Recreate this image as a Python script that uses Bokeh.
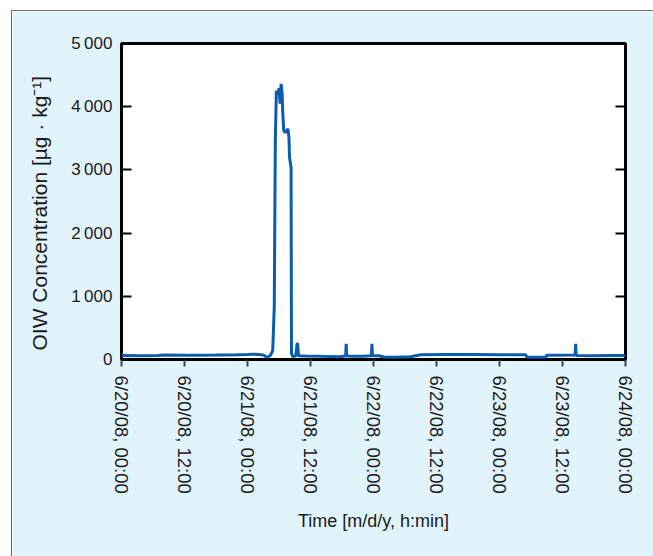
from bokeh.plotting import figure
from bokeh.models import LinearAxis, FixedTicker, ColumnDataSource
from bokeh.embed import file_html
from bokeh.resources import INLINE

# Time in hours since 6/20/08 00:00
hours = [0, 4, 7, 8, 12, 15, 18, 20, 22, 24, 25, 26, 27, 27.8, 28.4, 28.8, 29.1, 29.3,
         29.5, 29.8, 30.0, 30.2, 30.4, 30.6, 30.7, 30.9, 31.2, 31.7, 31.9, 32.0, 32.3,
         32.38, 32.6, 33.2, 33.45, 33.55, 33.7, 35, 38, 41.5, 42.7, 42.8, 42.9, 44, 46,
         47.6, 47.7, 47.8, 49, 50, 52, 55, 57, 62, 67, 72, 77, 77.2, 80.8, 81, 86.4,
         86.5, 86.6, 86.8, 90, 93, 96]
oiw = [62, 60, 62, 70, 68, 68, 70, 72, 75, 80, 85, 80, 72, 32, 70, 140, 830, 3460,
       4250, 4200, 4290, 4050, 4360, 4200, 3940, 3620, 3590, 3650, 3510, 3200, 3040,
       95, 47, 60, 250, 250, 60, 55, 50, 45, 55, 250, 55, 50, 52,
       60, 250, 60, 58, 40, 35, 45, 75, 78, 80, 76, 75, 36, 36, 68, 70,
       250, 70, 62, 60, 65, 62]

x_ticks = [0, 12, 24, 36, 48, 60, 72, 84, 96]
x_tick_labels = ["6/20/08, 00:00", "6/20/08, 12:00", "6/21/08, 00:00", "6/21/08, 12:00",
                 "6/22/08, 00:00", "6/22/08, 12:00", "6/23/08, 00:00", "6/23/08, 12:00",
                 "6/24/08, 00:00"]
y_ticks = [0, 1000, 2000, 3000, 4000, 5000]
y_tick_labels = ["0", "1\u2009000", "2\u2009000", "3\u2009000", "4\u2009000", "5\u2009000"]

FONT = "Liberation Sans"
BG = "#e1f3fb"

p = figure(frame_width=504, frame_height=316, x_range=(0, 96), y_range=(0, 5000),
           output_backend="svg", toolbar_location=None,
           min_border_left=109, min_border_right=29, min_border_top=32, min_border_bottom=198)
p.border_fill_color = BG
p.background_fill_color = "white"
p.outline_line_color = "black"
p.outline_line_width = 3
p.xgrid.visible = False
p.ygrid.visible = False
p.styles = {"margin-left": "11px", "margin-top": "10px",
            "border-left": "1px solid #6b6b6b", "border-top": "1px solid #6b6b6b"}

src = ColumnDataSource(data=dict(t=hours, v=oiw))
p.line("t", "v", source=src, line_color="#0b5cad", line_width=3)

xa = p.xaxis[0]
xa.ticker = FixedTicker(ticks=x_ticks)
xa.major_label_overrides = {t: l for t, l in zip(x_ticks, x_tick_labels)}
xa.major_label_orientation = "vertical"
xa.major_tick_in = 0
xa.major_tick_out = 7
xa.major_tick_line_color = "#444444"
xa.major_tick_line_width = 2
xa.minor_tick_line_color = None
xa.axis_line_color = None
xa.major_label_text_font = FONT
xa.major_label_text_font_size = "18.5px"
xa.major_label_text_color = "#1a1a1a"
xa.major_label_standoff = 9
xa.axis_label = "Time [m/d/y, h:min]"
xa.axis_label_text_font = FONT
xa.axis_label_text_font_size = "18px"
xa.axis_label_text_font_style = "normal"
xa.axis_label_text_color = "#1a1a1a"
xa.axis_label_standoff = 14

ya = p.yaxis[0]
ya.ticker = FixedTicker(ticks=y_ticks)
ya.major_label_overrides = {t: l for t, l in zip(y_ticks, y_tick_labels)}
ya.major_tick_in = 10
ya.major_tick_out = 0
ya.major_tick_line_color = "black"
ya.major_tick_line_width = 2
ya.minor_tick_line_color = None
ya.axis_line_color = None
ya.major_label_text_font = FONT
ya.major_label_text_font_size = "17px"
ya.major_label_text_color = "#1a1a1a"
ya.major_label_standoff = 9
ya.axis_label = "OIW Concentration [\u00b5g \u00b7 kg\u207b\u00b9]" + "\u00a0" * 4
ya.axis_label_text_font = FONT
ya.axis_label_text_font_size = "21px"
ya.axis_label_text_font_style = "normal"
ya.axis_label_text_color = "#1a1a1a"
ya.axis_label_standoff = 17

ra = LinearAxis(ticker=FixedTicker(ticks=y_ticks))
ra.major_label_text_font_size = "0px"
ra.major_label_text_alpha = 0
ra.major_tick_in = 10
ra.major_tick_out = 0
ra.major_tick_line_color = "black"
ra.major_tick_line_width = 2
ra.minor_tick_line_color = None
ra.axis_line_color = None
p.add_layout(ra, "right")

open("out.html", "w").write(file_html(p, INLINE))
